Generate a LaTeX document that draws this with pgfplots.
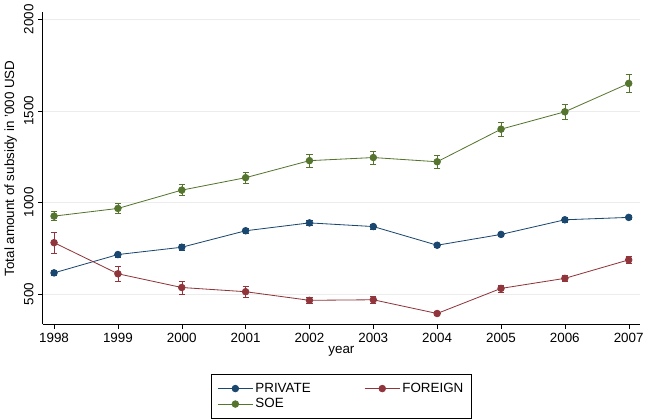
\documentclass[border=0pt]{standalone}
\usepackage{pgfplots}
\pgfplotsset{compat=1.18}
\usepackage{fontspec}
\setmainfont{Liberation Sans}
\definecolor{cp}{HTML}{1A476F}
\definecolor{cf}{HTML}{90353B}
\definecolor{cs}{HTML}{55752F}
\begin{document}
\fontsize{13}{15}\selectfont
\begin{tikzpicture}[font=\fontsize{13}{15}\selectfont]
\begin{axis}[
 width=578bp, height=302bp, scale only axis,
 xmin=1997.82, xmax=2007.18, ymin=333, ymax=2039,
 axis lines*=left,
 xtick={1998,...,2007}, ytick={500,1000,1500,2000},
 xticklabel style={/pgf/number format/1000 sep=},
 yticklabel style={rotate=90,anchor=south,/pgf/number format/1000 sep=},
 /pgf/number format/assume math mode=true,
 ymajorgrids, grid style={gray!15},
 tick style={black}, tick align=outside,
 xlabel={year}, ylabel={Total amount of subsidy in '000 USD},
 xlabel style={yshift=6pt}, ylabel style={yshift=-2pt},
 every axis plot/.append style={thick, mark=*, mark size=3.2pt, error bars/y dir=both, error bars/y explicit, error bars/error mark options={rotate=90,mark size=3pt}},
 legend style={at={(0.5,-0.16)},anchor=north,legend columns=2,draw=black,/tikz/every even column/.append style={column sep=50pt},font=\fontsize{13}{15}\selectfont,cells={anchor=west},inner sep=6pt},
 legend image code/.code={\draw[#1] (0cm,0cm) -- (1.2cm,0cm); \draw[#1,mark repeat=1] plot coordinates {(0.6cm,0cm)};}
]
\addplot[cp, mark options={fill=cp}] coordinates {
(1998,615)+-(0,15) (1999,715)+-(0,15) (2000,755)+-(0,15) (2001,845)+-(0,15) (2002,888)+-(0,15)
(2003,868)+-(0,12) (2004,766)+-(0,10) (2005,825)+-(0,12) (2006,905)+-(0,12) (2007,918)+-(0,12)};
\addplot[cf, mark options={fill=cf}] coordinates {
(1998,780)+-(0,55) (1999,610)+-(0,40) (2000,535)+-(0,35) (2001,512)+-(0,30) (2002,465)+-(0,18)
(2003,468)+-(0,18) (2004,393)+-(0,10) (2005,530)+-(0,18) (2006,585)+-(0,18) (2007,686)+-(0,20)};
\addplot[cs, mark options={fill=cs}] coordinates {
(1998,925)+-(0,25) (1999,967)+-(0,28) (2000,1067)+-(0,30) (2001,1135)+-(0,32) (2002,1228)+-(0,35)
(2003,1245)+-(0,35) (2004,1222)+-(0,35) (2005,1400)+-(0,40) (2006,1495)+-(0,42) (2007,1650)+-(0,48)};
\legend{PRIVATE,FOREIGN,SOE}
\end{axis}
\end{tikzpicture}
\end{document}
